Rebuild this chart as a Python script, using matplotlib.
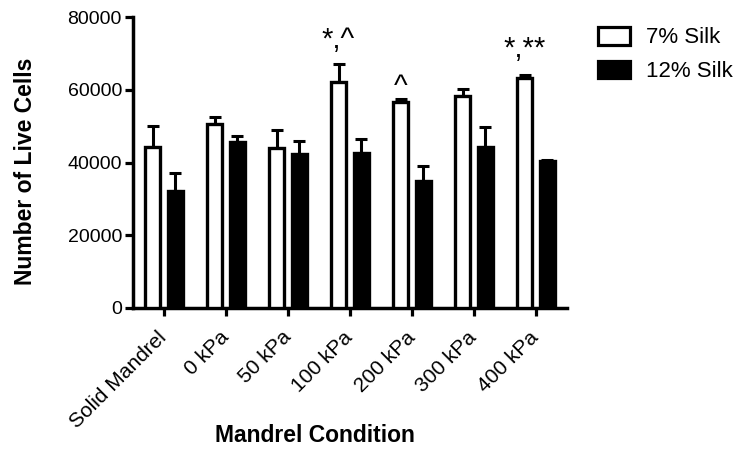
import matplotlib
matplotlib.use("Agg")
import matplotlib.pyplot as plt
import numpy as np
from matplotlib.patches import Patch

categories = ["Solid Mandrel", "0 kPa", "50 kPa", "100 kPa", "200 kPa", "300 kPa", "400 kPa"]
silk7 = [44200, 50500, 44000, 62100, 56500, 58200, 63100]
silk7_err = [5700, 1900, 5000, 5000, 1000, 1900, 900]
silk12 = [32200, 45500, 42200, 42500, 35000, 44200, 40400]
silk12_err = [4800, 1900, 3800, 3900, 4000, 5500, 300]
annotations = {3: "*,^", 4: "^", 6: "*,**"}
annot_y = {3: 71400, 4: 58500, 6: 69000}
series_names = ["7% Silk", "12% Silk"]
yticks = [0, 20000, 40000, 60000, 80000]

plt.rcParams['font.family'] = ['Liberation Sans', 'DejaVu Sans']
tick_fs = 14
xtick_fs = 15
label_fs = 16.5
leg_fs = 16
ann_fs = 21

fig = plt.figure(figsize=(7.41, 4.55), dpi=100)
ax = fig.add_axes([133/741, 147/455, 434/741, 291/455])

x = np.arange(len(categories))
w = 0.255
off = 0.185
lw = 2.4

ax.bar(x - off, silk7, w, color='white', edgecolor='black', linewidth=lw, zorder=3)
ax.bar(x + off, silk12, w, color='black', edgecolor='black', linewidth=lw, zorder=3)
ax.errorbar(x - off, silk7, yerr=[np.zeros(len(x)), silk7_err], fmt='none',
            ecolor='black', elinewidth=2.2, capsize=4, capthick=2.2, zorder=2)
ax.errorbar(x + off, silk12, yerr=[np.zeros(len(x)), silk12_err], fmt='none',
            ecolor='black', elinewidth=2.2, capsize=4, capthick=2.2, zorder=2)

for i, t in annotations.items():
    ax.text(x[i] - off, annot_y[i], t, ha='center', va='baseline', fontsize=ann_fs)

ax.set_xlim(-0.5, len(categories) - 0.5)
ax.set_ylim(0, 80000)
ax.set_yticks(yticks)
ax.set_yticklabels([str(v) for v in yticks], fontsize=tick_fs)
ax.set_xticks(x)
ax.set_xticklabels(categories, fontsize=xtick_fs, rotation=45, ha='right', va='center',
                   rotation_mode='anchor')
ax.tick_params(axis='both', direction='out', length=6, width=2.3, pad=2)
ax.tick_params(axis='x', pad=13)
for s in ['top', 'right']:
    ax.spines[s].set_visible(False)
for s in ['left', 'bottom']:
    ax.spines[s].set_linewidth(2.5)

ax.set_ylabel("Number of Live Cells", fontsize=label_fs, fontweight='bold')
ax.yaxis.set_label_coords(-0.221, 0.47)
ax.set_xlabel("Mandrel Condition", fontsize=label_fs, fontweight='bold')
ax.xaxis.set_label_coords((315 - 133) / 434, -0.40)

handles = [Patch(facecolor='white', edgecolor='black', linewidth=2.3),
           Patch(facecolor='black', edgecolor='black', linewidth=2.3)]
fig.legend(handles, series_names, loc='upper left', bbox_to_anchor=(589/741, 1 - 18/455),
           frameon=False, fontsize=leg_fs, handlelength=1.45, handleheight=0.85,
           handletextpad=0.7, labelspacing=0.55, borderaxespad=0)

fig.savefig("out.png", dpi=100)
